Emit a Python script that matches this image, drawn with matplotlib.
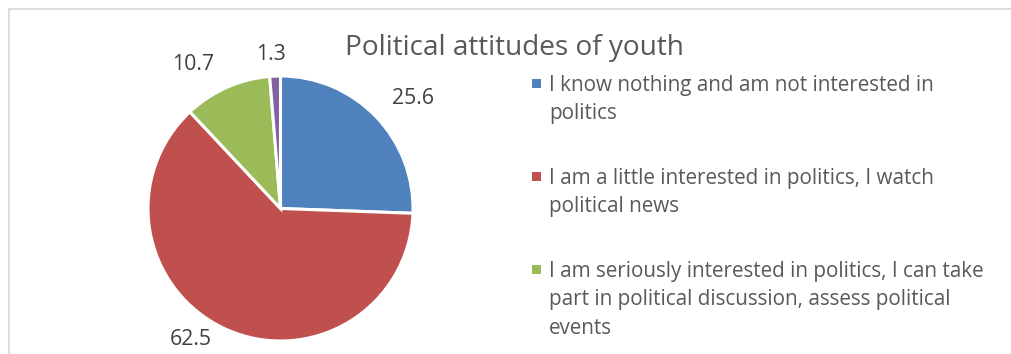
import matplotlib.pyplot as plt
from matplotlib.patches import Rectangle

plt.rcParams['font.family'] = ['Open Sans', 'DejaVu Sans']

values = [25.6, 62.5, 10.7, 1.3]
labels = ["I know nothing and am not interested in\npolitics",
          "I am a little interested in politics, I watch\npolitical news",
          "I am seriously interested in politics, I can take\npart in political discussion, assess political\nevents"]
colors = ["#4f81bd", "#c0504d", "#9bbb59", "#8064a2"]
title = "Political attitudes of youth"

W, H = 1011, 354
fig = plt.figure(figsize=(W / 100, H / 100), dpi=100)

def fx(px):
    return px / W

def fy(py):
    return 1 - py / H

# chart frame (only top and left edges are inside the picture)
fig.add_artist(Rectangle((fx(8.5), -0.1), 1.2, fy(9) + 0.1, transform=fig.transFigure,
                         fill=False, edgecolor="#d9d9d9", linewidth=1.3))

cx, cy, r = 280.5, 208.5, 132.5
ax = fig.add_axes([fx(cx - r), fy(cy + r), 2 * r / W, 2 * r / H])
wedges, _ = ax.pie(values, colors=colors, startangle=90, counterclock=False,
                   wedgeprops=dict(edgecolor="white", linewidth=2.2))
ax.set_xlim(-1, 1)
ax.set_ylim(-1, 1)
ax.set_aspect("equal")

lab_pos = [(1.0, 0.83), (-0.68, -0.985), (-0.66, 1.09), (-0.07, 1.165)]
for v, (x, y) in zip(values, lab_pos):
    ax.text(x, y, str(v), fontsize=15.3, color="#404040", ha="center", va="center", clip_on=False)

fig.text(fx(514), fy(48), title, fontsize=20.2, color="#595959", ha="center", va="center")

# legend (the fourth entry is cut off in the original)
first_base = [91, 184, 277]
for lab, col, yb in zip(labels, colors, first_base):
    fig.add_artist(Rectangle((fx(532), fy(yb - 3)), 9 / W, 9 / H, transform=fig.transFigure,
                             facecolor=col, edgecolor="none"))
    for i, line in enumerate(lab.split("\n")):
        fig.text(fx(549), fy(yb + 28.3 * i), line, fontsize=14.9, color="#595959",
                 ha="left", va="baseline")

fig.savefig("out.png", dpi=100)
